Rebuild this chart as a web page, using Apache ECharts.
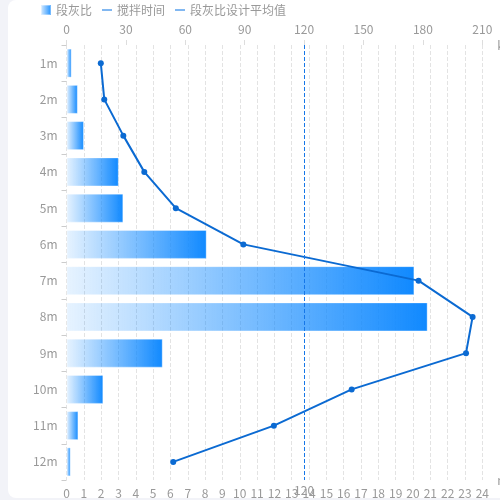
<!DOCTYPE html>
<html>
<head>
<meta charset="utf-8">
<script src="https://cdn.jsdelivr.net/npm/echarts@6/dist/echarts.min.js"></script>
<style>
html,body{margin:0;padding:0;width:500px;height:500px;background:#f2f3f8;overflow:hidden;}
#card{position:absolute;left:8px;top:0;width:520px;height:498px;background:#fff;border-radius:8px;}
#main{position:absolute;left:0;top:0;width:500px;height:500px;}
</style>
</head>
<body>
<div id="card"></div>
<div id="main"></div>
<script>
const categories = ['1m','2m','3m','4m','5m','6m','7m','8m','9m','10m','11m','12m'];
const ratioValues = [2.6, 5.7, 8.8, 26.4, 28.7, 70.8, 175.7, 182.4, 48.6, 18.6, 6.0, 2.1];
const mixTimeValues = [1.98, 2.18, 3.28, 4.49, 6.31, 10.21, 20.32, 23.44, 23.06, 16.46, 11.97, 6.16];
const designAverage = 120;
const topTicks = {min: 0, max: 210, interval: 30};
const bottomTicks = {min: 0, max: 24, interval: 1};

const chart = echarts.init(document.getElementById('main'), null, {renderer: 'canvas'});
const gray = '#999';
const markColor = '#1677e8';
const lineIcon = 'path://M0,0 L0,0 M0,4.2 L10,4.2 L10,5.8 L0,5.8 Z M10,10 L10,10';
chart.setOption({
  animation: false,
  textStyle: {fontFamily: 'Noto Sans CJK SC'},
  legend: {
    left: 35, top: 0, padding: [4, 5],
    itemWidth: 10, itemHeight: 10, itemGap: 10,
    textStyle: {color: gray, fontSize: 12},
    data: [
      {name: '段灰比', icon: 'rect'},
      {name: '搅拌时间', icon: lineIcon, itemStyle: {color: '#62a6ee'}},
      {name: '段灰比设计平均值', icon: lineIcon, itemStyle: {color: '#62a6ee'}}
    ]
  },
  grid: {left: 66.5, right: 17.7, top: 45, bottom: 20, containLabel: false, outerBoundsMode: 'none'},
  xAxis: [
    {
      type: 'value', position: 'top',
      min: topTicks.min, max: topTicks.max, interval: topTicks.interval,
      name: 'kg', nameGap: 15, nameTextStyle: {color: gray},
      axisLine: {show: false},
      axisTick: {show: true, length: 5, lineStyle: {color: '#ddd'}},
      axisLabel: {color: gray, fontSize: 12, margin: 10},
      splitLine: {show: false}
    },
    {
      type: 'value', position: 'bottom',
      min: bottomTicks.min, max: bottomTicks.max, interval: bottomTicks.interval,
      name: 'min', nameGap: 15, nameTextStyle: {color: gray},
      axisLine: {show: false},
      axisTick: {show: false},
      axisLabel: {color: gray, fontSize: 12, margin: 7},
      splitLine: {show: true, lineStyle: {type: 'dashed', color: '#e3e3e3'}}
    }
  ],
  yAxis: {
    type: 'category', inverse: true, data: categories,
    axisLine: {show: false},
    axisTick: {show: true, length: 5, lineStyle: {color: '#ccc'}},
    axisLabel: {color: gray, fontSize: 12, margin: 9}
  },
  series: [
    {
      name: '段灰比', type: 'bar', xAxisIndex: 0, data: ratioValues,
      barCategoryGap: '20%',
      itemStyle: {
        color: new echarts.graphic.LinearGradient(0, 0, 1, 0, [
          {offset: 0, color: 'rgba(16,137,255,0.1)'},
          {offset: 1, color: 'rgba(16,137,255,1)'}
        ]),
        borderColor: 'rgba(255,255,255,0.35)', borderWidth: 1
      }
    },
    {
      name: '搅拌时间', type: 'line', xAxisIndex: 1, data: mixTimeValues,
      symbol: 'circle', symbolSize: 6,
      lineStyle: {color: '#0b6ad2', width: 2},
      itemStyle: {color: '#0b6ad2'}
    },
    {
      name: '段灰比设计平均值', type: 'line', xAxisIndex: 0, data: [],
      color: markColor,
      itemStyle: {color: markColor},
      lineStyle: {color: markColor},
      markLine: {
        silent: true, symbol: 'none',
        lineStyle: {type: 'dashed', color: markColor, width: 1},
        label: {show: true, position: 'end', color: gray, fontSize: 12, distance: 4},
        data: [{xAxis: designAverage, lineStyle: {type: 'dashed', color: markColor, width: 1}}]
      }
    }
  ]
});
</script>
</body>
</html>
